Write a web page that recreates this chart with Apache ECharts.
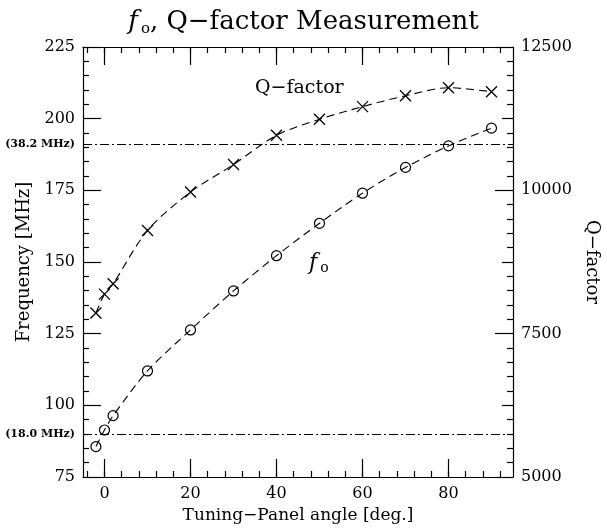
<!DOCTYPE html>
<html>
<head>
<meta charset="utf-8">
<script src="https://cdn.jsdelivr.net/npm/echarts@6/dist/echarts.min.js"></script>
<style>html,body{margin:0;padding:0;background:#fff}#c{width:607px;height:529px}</style>
</head>
<body>
<div id="c"></div>
<script>
// ---- data ----
const angles = [-2, 0, 2, 10, 20, 30, 40, 50, 60, 70, 80, 90];
const freqMHz = [85.6, 91.4, 96.4, 112.0, 126.3, 139.9, 152.2, 163.5, 174.0, 183.0, 190.5, 196.7];
const qFactor = [7860, 8190, 8370, 9300, 9970, 10450, 10960, 11240, 11460, 11650, 11790, 11720];
const refLineValues = [191, 90];
const refLineLabels = ['(38.2 MHz)', '(18.0 MHz)'];
const xTickLabels = [0, 20, 40, 60, 80];
const xMinorTicks = [-4,0,4,8,12,16,20,24,28,32,36,40,44,48,52,56,60,64,68,72,76,80,84,88,92];
const yTickLabels = [75, 100, 125, 150, 175, 200, 225];
const yMinorTicks = [80,85,90,95,105,110,115,120,130,135,140,145,155,160,165,170,180,185,190,195,205,210,215,220];
const qTickLabels = [5000, 7500, 10000, 12500];
const qMidTicks = [6250, 8750, 11250];
const qMinorTicks = [];
for (let v = 5250; v < 12500; v += 250) if (v % 1250 !== 0) qMinorTicks.push(v);

const FONT = 'DejaVu Serif';
const BLACK = '#000';

const chart = echarts.init(document.getElementById('c'), null, {renderer: 'canvas'});

function xAx(pos, ticks, len, showLabel, showLine, extra) {
  return Object.assign({
    type: 'value', position: pos, min: -5, max: 95, gridIndex: 0,
    axisLine: {show: showLine, onZero: false, lineStyle: {color: BLACK, width: 1.2}},
    axisTick: {show: true, inside: true, length: len, customValues: ticks, lineStyle: {color: BLACK, width: 1.2}},
    axisLabel: {show: showLabel, customValues: ticks, color: BLACK, fontFamily: FONT, fontSize: 16, margin: 9,
                formatter: v => String(v)},
    splitLine: {show: false}
  }, extra || {});
}
function yAx(pos, min, max, ticks, len, showLabel, showLine, extra) {
  return Object.assign({
    type: 'value', position: pos, min: min, max: max,
    axisLine: {show: showLine, onZero: false, lineStyle: {color: BLACK, width: 1.2}},
    axisTick: {show: true, inside: true, length: len, customValues: ticks, lineStyle: {color: BLACK, width: 1.2}},
    axisLabel: {show: showLabel, customValues: ticks, color: BLACK, fontFamily: FONT, fontSize: 16, margin: 8,
                formatter: v => String(v)},
    splitLine: {show: false}
  }, extra || {});
}

const option = {
  backgroundColor: '#fff',
  animation: false,
  title: {
    left: 'center', top: 3,
    text: '{f|f}{o|o}{t|, Q\u2212factor Measurement}',
    textStyle: {
      fontWeight: 'normal',
      rich: {
        f: {fontFamily: FONT, fontStyle: 'italic', fontWeight: 'normal', fontSize: 26, color: BLACK},
        o: {fontFamily: FONT, fontWeight: 'normal', fontSize: 15, color: BLACK, verticalAlign: 'bottom', padding: [14, 0, 0, 3]},
        t: {fontFamily: FONT, fontWeight: 'normal', fontSize: 26, color: BLACK}
      }
    }
  },
  grid: {left: 83, right: 94, top: 47, bottom: 52, containLabel: false, outerBoundsMode: 'none'},
  xAxis: [
    xAx('bottom', xTickLabels, 18, true, true, {
      name: 'Tuning\u2212Panel angle [deg.]', nameLocation: 'middle', nameGap: 30,
      nameTextStyle: {fontFamily: FONT, fontSize: 17, color: BLACK}
    }),
    xAx('bottom', xMinorTicks, 6, false, false),
    xAx('top', xTickLabels, 18, false, true),
    xAx('top', xMinorTicks, 6, false, false)
  ],
  yAxis: [
    yAx('left', 75, 225, yTickLabels, 18, true, true, {
      name: 'Frequency [MHz]', nameLocation: 'middle', nameGap: 50,
      nameTextStyle: {fontFamily: FONT, fontSize: 18, color: BLACK}
    }),
    yAx('left', 75, 225, yMinorTicks, 6, false, false),
    yAx('right', 5000, 12500, qTickLabels, 18, true, true, {
      name: 'Q\u2212factor', nameLocation: 'middle', nameGap: 68, nameRotate: -90,
      nameTextStyle: {fontFamily: FONT, fontSize: 18, color: BLACK}
    }),
    yAx('right', 5000, 12500, qMidTicks, 11, false, false),
    yAx('right', 5000, 12500, qMinorTicks, 6, false, false)
  ],
  series: [
    {
      type: 'line', name: 'fo', xAxisIndex: 0, yAxisIndex: 0,
      data: angles.map((a, i) => [a, freqMHz[i]]),
      smooth: 0.3,
      symbol: 'circle', symbolSize: 10,
      itemStyle: {color: 'rgba(0,0,0,0)', borderColor: BLACK, borderWidth: 1.2},
      lineStyle: {color: BLACK, width: 1.1, type: [8, 5]},
      markLine: {
        silent: true, symbol: ['none', 'none'],
        lineStyle: {color: BLACK, width: 1, type: [9, 3, 2, 3]},
        label: {
          show: true, position: 'start', distance: 8,
          fontFamily: FONT, fontWeight: 'bold', fontSize: 11, color: BLACK,
          formatter: p => refLineLabels[refLineValues.indexOf(p.value)]
        },
        data: refLineValues.map(v => ({yAxis: v}))
      },
      z: 3
    },
    {
      type: 'line', name: 'Q', xAxisIndex: 0, yAxisIndex: 2,
      data: angles.map((a, i) => [a, qFactor[i]]),
      smooth: 0.3,
      symbol: 'path://M0,0L10,10M10,0L0,10', symbolSize: 11,
      itemStyle: {color: 'rgba(0,0,0,0)', borderColor: BLACK, borderWidth: 1.3},
      lineStyle: {color: BLACK, width: 1.1, type: [8, 5]},
      z: 3
    }
  ],
  graphic: [
    {type: 'text', left: 255, top: 79,
     style: {text: 'Q\u2212factor', font: '19px "DejaVu Serif"', fill: BLACK}},
    {type: 'text', left: 309, top: 252,
     style: {text: '{f|f}{o|o}', rich: {
       f: {fontFamily: FONT, fontStyle: 'italic', fontSize: 22, fill: BLACK},
       o: {fontFamily: FONT, fontSize: 14, fill: BLACK, padding: [11, 0, 0, 3]}
     }}}
  ]
};
chart.setOption(option);
</script>
</body>
</html>
